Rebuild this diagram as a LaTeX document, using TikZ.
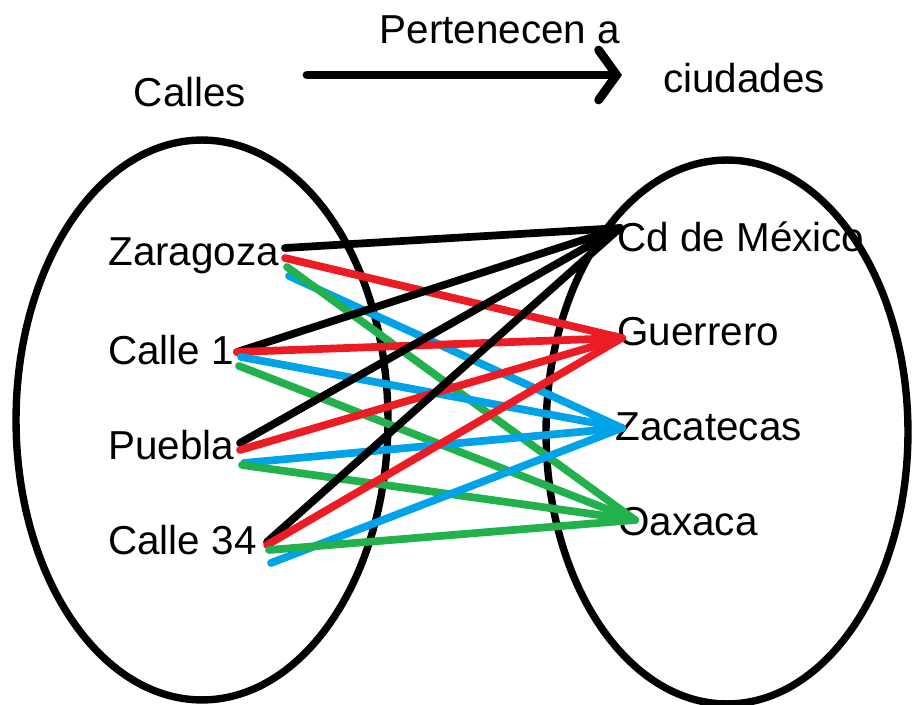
\documentclass[tikz,border=0pt]{standalone}
\usepackage{fontspec}
\setmainfont{Liberation Sans}
\usepackage{xcolor}
\usetikzlibrary{arrows.meta,calc,positioning}
\definecolor{rojo}{RGB}{237,28,36}
\definecolor{azul}{RGB}{0,162,232}
\definecolor{verde}{RGB}{34,177,76}
\tikzset{
  texto/.style={font=\fontsize{23}{28}\selectfont, inner sep=0pt},
  enlace/.style={line width=4.4pt, line cap=round},
  conjunto/.style={line width=4.2pt}
}

\begin{document}
\begin{tikzpicture}[x=0.02cm, y=-0.02cm]
        \useasboundingbox (0,0) rectangle (913,705);
        \draw[conjunto] (202,420) ellipse [x radius=3.72cm, y radius=5.6cm];
        \draw[conjunto] (727,432) ellipse [x radius=3.62cm, y radius=5.44cm];
        \node[texto] (calles) at (190,92) {Calles};
        \node[texto] (pert) at (500,30) {Pertenecen a};
        \node[texto] (ciud) at (744,78) {ciudades};
        \coordinate (flecha-a) at (307,75);
        \coordinate (flecha-b) at (622,75);
        \draw[enlace, line width=5pt, -{Straight Barb[length=0.36cm, width=1.0cm, line cap=round]}] (flecha-a) -- (flecha-b);
        \node[texto, anchor=west] (zar-t) at (108,256) {Zaragoza};
        \node[texto, anchor=west] (c1-t) at (108,350) {Calle 1};
        \node[texto, anchor=west] (pue-t) at (108,445) {Puebla};
        \node[texto, anchor=west] (c34-t) at (108,540) {Calle 34};
        \node[texto, anchor=west] (cdmx-t) at (617,237) {Cd de México};
        \node[texto, anchor=west] (gro-t) at (617,332) {Guerrero};
        \node[texto, anchor=west] (zac-t) at (615,427) {Zacatecas};
        \node[texto, anchor=west] (oax-t) at (618,522) {Oaxaca};
        \coordinate (zar) at (285,248);
        \coordinate (c1) at (237,352);
        \coordinate (pue) at (240,443);
        \coordinate (c34) at (267,542);
        \coordinate (cdmx) at (620,228);
        \coordinate (gro) at (622,338);
        \coordinate (zac) at (622,428);
        \coordinate (oax) at (635,520);
        \foreach \s/\r/\g/\b in {zar/10/19/28, c1/0/14/5, pue/7/22/20, c34/3/8/21} {
          \draw[enlace] (\s) -- (cdmx);
          \draw[enlace, rojo] ($(\s)+(0,\r)$) -- (gro);
          \draw[enlace, azul] ($(\s)+(4,\b)$) -- (zac);
          \draw[enlace, verde] ($(\s)+(2,\g)$) -- (oax);
        }
    \end{tikzpicture}
\end{document}
